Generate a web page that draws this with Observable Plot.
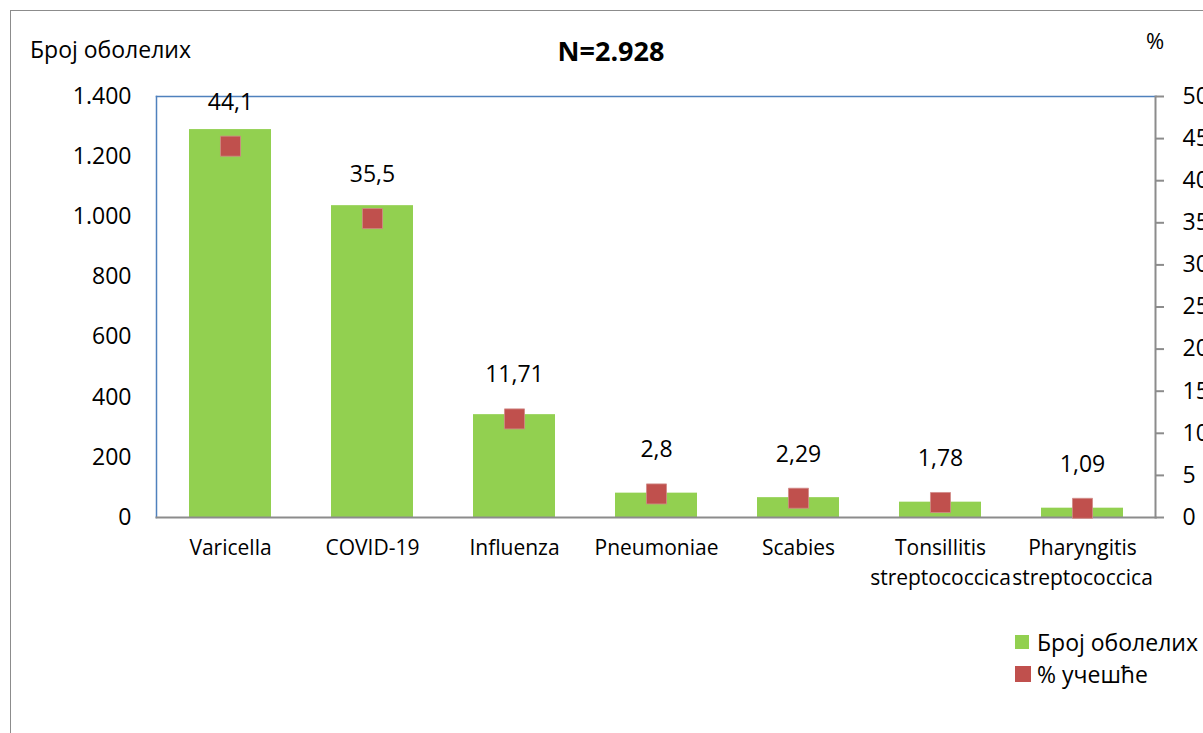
<!DOCTYPE html>
<html>
<head>
<meta charset="utf-8">
<script src="https://cdn.jsdelivr.net/npm/d3@7"></script>
<script src="https://cdn.jsdelivr.net/npm/@observablehq/plot@0.6"></script>
<style>
  html, body { margin: 0; padding: 0; background: #fff; overflow: hidden; }
  body { width: 1203px; height: 733px; position: relative; font-family: "Open Sans", sans-serif; color: #000; }
  #border { position: absolute; left: 10px; top: 10px; width: 1400px; height: 900px; border: 1.5px solid #8c8c8c; box-sizing: border-box; }
  #chart { position: absolute; left: 0; top: 0; }
  .lbl { position: absolute; white-space: nowrap; line-height: 1; }
  #ylab { left: 30px; top: 38px; font-size: 23px; }
  #pct { left: 1146px; top: 29px; font-size: 22px; }
  #title { left: 611px; top: 37px; transform: translateX(-50%); font-size: 27px; font-weight: bold; }
  #legend { position: absolute; left: 1015px; top: 626px; font-size: 23px; }
  .item { display: flex; align-items: center; height: 32px; }
  .sw { width: 14px; height: 14px; margin-right: 8px; }
</style>
</head>
<body>
<div id="border"></div>
<div id="chart"></div>
<div class="lbl" id="ylab">Број оболелих</div>
<div class="lbl" id="pct">%</div>
<div class="lbl" id="title">N=2.928</div>
<div id="legend"></div>
<script>
const categories = ["Varicella", "COVID-19", "Influenza", "Pneumoniae", "Scabies", "Tonsillitis\nstreptococcica", "Pharyngitis\nstreptococcica"];
const counts = [1290, 1037, 342, 81, 66, 51, 31];
const percents = [44.1, 35.5, 11.71, 2.8, 2.29, 1.78, 1.09];
const countTicks = [0, 200, 400, 600, 800, 1000, 1200, 1400];
const percentTicks = [0, 5, 10, 15, 20, 25, 30, 35, 40, 45, 50];
const seriesNames = ["Број оболелих", "% учешће"];
const seriesColors = ["#92d050", "#c0504d"];

const countMax = 1400, pctMax = 50;
const k = countMax / pctMax;
const data = categories.map((c, i) => ({cat: c, count: counts[i], pct: percents[i]}));
const fmt = d3.formatLocale({decimal: ",", thousands: ".", grouping: [3], currency: ["", ""]}).format(",");

const chart = Plot.plot({
  width: 1203,
  height: 733,
  marginLeft: 156,
  marginRight: 48,
  marginTop: 96,
  marginBottom: 216,
  style: {fontFamily: "Open Sans", fontSize: "22px", color: "#000", background: "transparent"},
  x: {domain: categories, padding: 0, label: null},
  y: {domain: [0, countMax], label: null},
  marks: [
    Plot.barY(data, {x: "cat", y: "count", fill: seriesColors[0], insetLeft: 30, insetRight: 30}),
    Plot.frame({anchor: "top", stroke: "#4f81bd", strokeWidth: 1.5}),
    Plot.frame({anchor: "left", stroke: "#4f81bd", strokeWidth: 1.5}),
    Plot.frame({anchor: "bottom", stroke: "#8c8c8c", strokeWidth: 2}),
    Plot.frame({anchor: "right", stroke: "#8c8c8c", strokeWidth: 2}),
    Plot.dot(data, {x: "cat", y: d => d.pct * k, symbol: "square", r: 11.3, fill: seriesColors[1], stroke: "#d08a88", strokeWidth: 0.8}),
    Plot.text(data, {x: "cat", y: d => d.pct * k, text: d => String(d.pct).replace(".", ","), dy: -44, fontSize: 23, fill: "#000"}),
    Plot.axisY({ticks: countTicks, tickSize: 0, tickPadding: 25, tickFormat: fmt, label: null, fontSize: 23}),
    Plot.axisY(percentTicks.map(v => v * k), {anchor: "right", tickSize: 8, tickPadding: 19, stroke: "#8c8c8c", strokeWidth: 2, tickFormat: d => String(Math.round(d / k)), label: null, fontSize: 23}),
    Plot.axisX({tickSize: 0, tickPadding: 17, lineHeight: 1.4, label: null, fontSize: 21})
  ]
});
document.getElementById("chart").appendChild(chart);

const legend = document.getElementById("legend");
seriesNames.forEach((n, i) => {
  const it = document.createElement("div");
  it.className = "item";
  const sw = document.createElement("div");
  sw.className = "sw";
  sw.style.background = seriesColors[i];
  if (i === 1) { sw.style.width = "16px"; sw.style.height = "16px"; sw.style.marginRight = "6px"; }
  const t = document.createElement("span");
  t.textContent = n;
  it.appendChild(sw); it.appendChild(t);
  legend.appendChild(it);
});
</script>
</body>
</html>
